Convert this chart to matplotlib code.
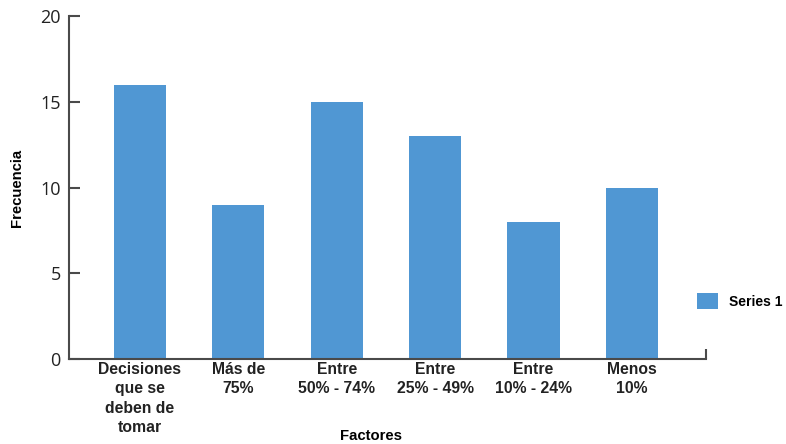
import matplotlib.pyplot as plt

categories = ['Decisiones\nque se\ndeben de\ntomar', 'Más de\n75%', 'Entre\n50% - 74%',
              'Entre\n25% - 49%', 'Entre\n10% - 24%', 'Menos\n10%']
frecuencia = [16, 9, 15, 13, 8, 10]
y_ticks = [0, 5, 10, 15, 20]

bar_color = '#5097D3'
axis_color = '#4a4a4a'

fig = plt.figure(figsize=(7.86, 4.44), dpi=100)
ax = fig.add_axes([0.0878, 0.1914, 0.810, 0.7726])

xs = list(range(len(categories)))
ax.bar(xs, frecuencia, width=0.53, color=bar_color, label='Series 1')

ax.set_xlim(-0.72, 5.75)
ax.set_ylim(0, 20)
ax.set_yticks(y_ticks)
ax.set_xticks(xs)
ax.set_xticklabels(categories, fontsize=11.3, fontweight='bold', family='Liberation Sans',
                   linespacing=1.38, color='#222222')
ax.tick_params(axis='x', length=0, pad=2)
ax.set_xticks([5.75], minor=True)
ax.tick_params(axis='x', which='minor', direction='in', length=7, width=1.5, color=axis_color)
ax.tick_params(axis='y', direction='in', length=8, width=1.5, color=axis_color,
               labelsize=13, pad=6, labelcolor='#222222')
for lab in ax.get_yticklabels():
    lab.set_family('Open Sans')

for side in ['top', 'right']:
    ax.spines[side].set_visible(False)
for side in ['left', 'bottom']:
    ax.spines[side].set_color(axis_color)
    ax.spines[side].set_linewidth(1.5)

ax.set_xlabel('Factores', fontsize=10.7, fontweight='bold', family='Liberation Sans')
ax.set_ylabel('Frecuencia', fontsize=10.7, fontweight='bold', family='Liberation Sans')
ax.xaxis.set_label_coords(0.475, -0.205)
ax.yaxis.set_label_coords(-0.071, 0.5)

fig.legend(loc='center left', bbox_to_anchor=(0.871, 0.322), frameon=False,
           handlelength=1.5, handleheight=1.3, handletextpad=0.8,
           prop={'family': 'Liberation Sans', 'weight': 'bold', 'size': 10})

fig.savefig('out.png', dpi=100)
